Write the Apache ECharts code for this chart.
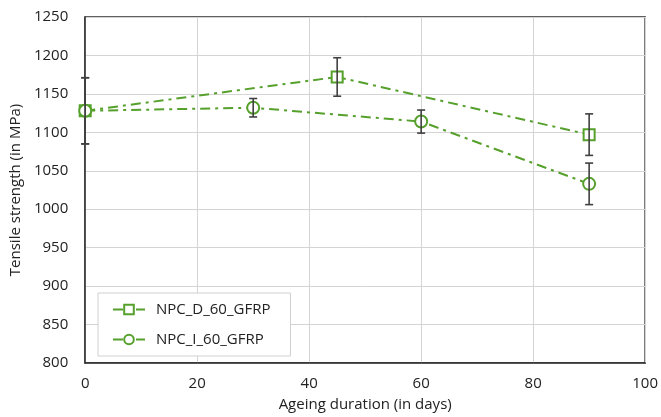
<!DOCTYPE html>
<html><head><meta charset="utf-8">
<script src="https://cdn.jsdelivr.net/npm/echarts@6/dist/echarts.min.js"></script>
<style>html,body{margin:0;padding:0;background:#fff}#c{width:661px;height:417px}</style>
</head><body><div id="c"></div>
<script>
const xTicks = [0, 20, 40, 60, 80, 100];
const yTicks = [800, 850, 900, 950, 1000, 1050, 1100, 1150, 1200, 1250];
const seriesNames = ['NPC_D_60_GFRP', 'NPC_I_60_GFRP'];
const dDays = [0, 45, 90];
const dValues = [1128, 1172, 1097];
const dErr = [43, 25, 27];
const iDays = [0, 30, 60, 90];
const iValues = [1128, 1132, 1114, 1033];
const iErr = [43, 12, 15, 27];

const green = '#56a02c';
const dashDot = [10, 5, 3, 5];

function errData(days, vals, errs) {
  return days.map((d, i) => [d, vals[i] - errs[i], vals[i] + errs[i]]);
}
function errRender(params, api) {
  const x = api.value(0);
  const lo = api.coord([x, api.value(1)]);
  const hi = api.coord([x, api.value(2)]);
  const w = 4;
  const st = { stroke: '#404040', lineWidth: 1.6 };
  return { type: 'group', children: [
    { type: 'line', shape: { x1: hi[0], y1: hi[1], x2: lo[0], y2: lo[1] }, style: st },
    { type: 'line', shape: { x1: hi[0]-w, y1: hi[1], x2: hi[0]+w, y2: hi[1] }, style: st },
    { type: 'line', shape: { x1: lo[0]-w, y1: lo[1], x2: lo[0]+w, y2: lo[1] }, style: st }
  ]};
}

const chart = echarts.init(document.getElementById('c'));
const font = 'Open Sans';
chart.setOption({
  animation: false,
  grid: { left: 83, right: 15, top: 17, bottom: 54, show: true, borderColor: '#2b2b2b', borderWidth: 1.5, containLabel: false },
  xAxis: {
    type: 'value', min: xTicks[0], max: xTicks[xTicks.length-1], interval: 20,
    name: 'Ageing duration (in days)', nameLocation: 'middle', nameGap: 34,
    nameTextStyle: { fontFamily: font, fontSize: 15, color: '#222' },
    axisLine: { show: true, lineStyle: { color: '#2b2b2b', width: 1.5 } },
    axisTick: { show: false },
    axisLabel: { fontFamily: font, fontSize: 15, color: '#222', margin: 13, formatter: v => String(v) },
    splitLine: { show: true, lineStyle: { color: '#d4d4d4', width: 1 } }
  },
  yAxis: {
    type: 'value', min: yTicks[0], max: yTicks[yTicks.length-1], interval: 50,
    name: 'Tensile strength (in MPa)', nameLocation: 'middle', nameGap: 60,
    nameTextStyle: { fontFamily: font, fontSize: 15, color: '#222' },
    axisLine: { show: true, lineStyle: { color: '#2b2b2b', width: 1.5 } },
    axisTick: { show: false },
    axisLabel: { fontFamily: font, fontSize: 15, color: '#222', margin: 17, formatter: v => String(v) },
    splitLine: { show: true, lineStyle: { color: '#d4d4d4', width: 1 } }
  },
  legend: {
    orient: 'vertical', left: 98, top: 293,
    padding: [9, 20, 9, 14], itemGap: 15, itemWidth: 32, itemHeight: 12,
    borderColor: '#d0d0d0', borderWidth: 1, backgroundColor: '#fff',
    textStyle: { fontFamily: font, fontSize: 15, color: '#222', padding: [0, 0, 0, 6] },
    data: seriesNames
  },
  series: [
    { name: seriesNames[0], type: 'line', data: dDays.map((d, i) => [d, dValues[i]]),
      symbol: 'rect', symbolSize: 11, itemStyle: { color: '#fff', borderColor: green, borderWidth: 2 },
      lineStyle: { color: green, width: 2, type: dashDot }, z: 3 },
    { name: seriesNames[1], type: 'line', data: iDays.map((d, i) => [d, iValues[i]]),
      symbol: 'circle', symbolSize: 12, itemStyle: { color: '#fff', borderColor: green, borderWidth: 2 },
      lineStyle: { color: green, width: 2, type: dashDot }, z: 3 },
    { type: 'custom', renderItem: errRender, data: errData(dDays, dValues, dErr), z: 4, silent: true },
    { type: 'custom', renderItem: errRender, data: errData(iDays, iValues, iErr), z: 4, silent: true }
  ]
});
</script></body></html>
